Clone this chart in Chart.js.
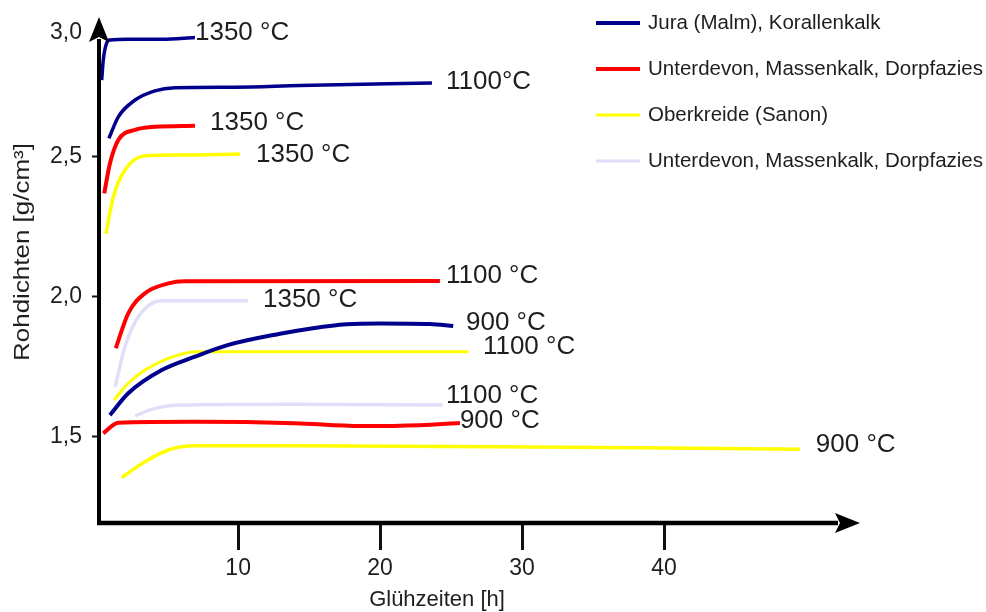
<!DOCTYPE html>
<html>
<head>
<meta charset="utf-8">
<script src="https://cdn.jsdelivr.net/npm/chart.js@4.4.1/dist/chart.umd.min.js"></script>
<style>
  html, body { margin: 0; padding: 0; background: #fff; }
  #wrap { width: 986px; height: 612px; }
</style>
</head>
<body>
<div id="wrap"><canvas id="densityChart" width="986" height="612"></canvas></div>
<script>
// Glühzeit [h] und Rohdichte [g/cm³]
const JURA_1350_H = [0.39, 0.50, 0.74, 0.97, 2.24, 4.62, 6.96];
const JURA_1350_D = [2.774, 2.846, 2.907, 2.918, 2.920, 2.920, 2.927];
const JURA_1100_H = [0.90, 1.56, 2.74, 4.14, 5.55, 9.78, 14.35, 23.65];
const JURA_1100_D = [2.566, 2.643, 2.703, 2.736, 2.747, 2.749, 2.755, 2.764];
const JURA_900_H = [0.97, 2.26, 4.62, 6.96, 9.31, 12.95, 15.27, 17.64, 19.99, 23.51, 25.15];
const JURA_900_D = [1.576, 1.654, 1.737, 1.785, 1.827, 1.867, 1.887, 1.901, 1.904, 1.902, 1.895];

const DEVON_1350_H = [0.57, 0.97, 1.56, 2.74, 4.14, 6.96];
const DEVON_1350_D = [2.369, 2.476, 2.560, 2.596, 2.607, 2.611];
const DEVON_1100_H = [1.38, 2.26, 3.44, 5.08, 6.2, 24.21];
const DEVON_1100_D = [1.815, 1.940, 2.012, 2.047, 2.055, 2.056];
const DEVON_900_H = [0.50, 1.56, 6.96, 14.0, 18.58, 22.8, 25.62];
const DEVON_900_D = [1.511, 1.549, 1.552, 1.547, 1.537, 1.540, 1.548];

const KREIDE_1350_H = [0.69, 1.21, 2.03, 3.44, 5.76, 10.13];
const KREIDE_1350_D = [2.224, 2.357, 2.453, 2.504, 2.506, 2.510];
const KREIDE_1100_H = [1.26, 2.26, 3.44, 5.08, 6.96, 26.21];
const KREIDE_1100_D = [1.630, 1.690, 1.737, 1.779, 1.803, 1.803];
const KREIDE_900_H = [1.80, 3.44, 5.08, 6.96, 14.0, 28.44, 49.57];
const KREIDE_900_D = [1.353, 1.409, 1.451, 1.466, 1.466, 1.463, 1.454];

const DORP_1350_H = [1.33, 2.03, 2.97, 4.62, 10.71];
const DORP_1350_D = [1.677, 1.821, 1.928, 1.985, 1.985];
const DORP_1100_H = [2.74, 4.14, 5.78, 14.0, 24.4];
const DORP_1100_D = [1.573, 1.600, 1.612, 1.615, 1.612];

const SERIES_NAMES = [
  'Jura (Malm), Korallenkalk',
  'Unterdevon, Massenkalk, Dorpfazies',
  'Oberkreide (Sanon)',
  'Unterdevon, Massenkalk, Dorpfazies'
];
const SERIES_COLORS = ['#00008c', '#ff0000', '#ffff00', '#e2def9'];

// Temperaturbeschriftung je Kurve, Ankerpunkt in Achsenwerten
const TEMP_LABELS = ['1350 °C', '1100°C', '900 °C', '1350 °C', '1100 °C', '900 °C',
  '1350 °C', '1100 °C', '900 °C', '1350 °C', '1100 °C'];
const LABEL_H = [7.10, 24.78, 26.19, 8.16, 24.78, 25.76, 11.40, 27.38, 50.83, 11.89, 24.78];
const LABEL_D = [2.942, 2.767, 1.905, 2.621, 2.073, 1.555, 2.506, 1.819, 1.469, 1.988, 1.644];

const X_TICKS = [10, 20, 30, 40];
const Y_TICKS = [1.5, 2.0, 2.5];
const Y_TOP_LABEL = '3,0';
const X_TITLE = 'Glühzeiten [h]';
const Y_TITLE = 'Rohdichten [g/cm³]';
const X_MIN = 0.2, X_MAX = 53.8;
const Y_MIN = 1.19, Y_MAX = 3.0;

const FONT = "'Liberation Sans', Arial, sans-serif";
const TEXT = '#1e1e1e';

Chart.defaults.font.family = FONT;
Chart.defaults.color = TEXT;

function curve(h, d, group, width) {
  return {
    label: SERIES_NAMES[group],
    data: h.map((x, i) => ({ x, y: d[i] })),
    borderColor: SERIES_COLORS[group],
    borderWidth: width,
    pointRadius: 0,
    fill: false,
    cubicInterpolationMode: 'monotone'
  };
}

function noPadding(s) {
  s.paddingTop = 0;
  s.paddingBottom = 0;
  s.paddingLeft = 0;
  s.paddingRight = 0;
}

const axisPlugin = {
  id: 'axisAndNotes',
  afterDatasetsDraw(chart) {
    const { ctx, chartArea: a, scales: { x, y } } = chart;
    ctx.save();
    ctx.strokeStyle = '#000';
    ctx.fillStyle = '#000';
    ctx.lineCap = 'butt';

    // Achsen mit Pfeilen
    ctx.lineWidth = 4;
    ctx.beginPath();
    ctx.moveTo(a.left, a.bottom + 2);
    ctx.lineTo(a.left, a.top + 22);
    ctx.stroke();
    ctx.lineWidth = 4.5;
    ctx.beginPath();
    ctx.moveTo(a.left - 2, a.bottom);
    ctx.lineTo(a.right - 22, a.bottom);
    ctx.stroke();

    ctx.beginPath();
    ctx.moveTo(a.left, a.top);
    ctx.lineTo(a.left + 10, a.top + 25);
    ctx.lineTo(a.left, a.top + 20);
    ctx.lineTo(a.left - 10, a.top + 25);
    ctx.closePath();
    ctx.fill();

    ctx.beginPath();
    ctx.moveTo(a.right, a.bottom);
    ctx.lineTo(a.right - 25, a.bottom - 10);
    ctx.lineTo(a.right - 20, a.bottom);
    ctx.lineTo(a.right - 25, a.bottom + 10);
    ctx.closePath();
    ctx.fill();

    // oberste Beschriftung neben der Pfeilspitze
    ctx.fillStyle = TEXT;
    ctx.font = '23px ' + FONT;
    ctx.textAlign = 'right';
    ctx.textBaseline = 'middle';
    ctx.fillText(Y_TOP_LABEL, a.left - 17, a.top + 16);

    // Achsentitel
    ctx.font = '22px ' + FONT;
    ctx.textAlign = 'center';
    ctx.fillText(X_TITLE, 437, 600);
    ctx.save();
    ctx.translate(23, 252);
    ctx.rotate(-Math.PI / 2);
    ctx.scale(1.18, 1);
    ctx.fillText(Y_TITLE, 0, 0);
    ctx.restore();

    // Temperaturen an den Kurven
    ctx.font = '26px ' + FONT;
    ctx.textAlign = 'left';
    TEMP_LABELS.forEach((t, i) => {
      ctx.fillText(t, x.getPixelForValue(LABEL_H[i]) - 2, y.getPixelForValue(LABEL_D[i]));
    });

    // Legende
    ctx.font = '20.5px ' + FONT;
    SERIES_NAMES.forEach((name, i) => {
      const ly = 23 + i * 46;
      ctx.strokeStyle = SERIES_COLORS[i];
      ctx.lineWidth = i < 2 ? 4 : 3;
      ctx.beginPath();
      ctx.moveTo(596, ly);
      ctx.lineTo(640, ly);
      ctx.stroke();
      ctx.fillText(name, 648, ly);
    });
    ctx.restore();
  }
};

new Chart(document.getElementById('densityChart'), {
  type: 'line',
  data: {
    datasets: [
      curve(JURA_1350_H, JURA_1350_D, 0, 3.5),
      curve(JURA_1100_H, JURA_1100_D, 0, 3.5),
      curve(JURA_900_H, JURA_900_D, 0, 4),
      curve(DEVON_1350_H, DEVON_1350_D, 1, 4),
      curve(DEVON_1100_H, DEVON_1100_D, 1, 4),
      curve(DEVON_900_H, DEVON_900_D, 1, 4),
      curve(KREIDE_1350_H, KREIDE_1350_D, 2, 3.5),
      curve(KREIDE_1100_H, KREIDE_1100_D, 2, 3),
      curve(KREIDE_900_H, KREIDE_900_D, 2, 3.5),
      curve(DORP_1350_H, DORP_1350_D, 3, 3.5),
      curve(DORP_1100_H, DORP_1100_D, 3, 3.5)
    ]
  },
  options: {
    responsive: false,
    animation: false,
    layout: { padding: { top: 17, right: 126, bottom: 0, left: 0 } },
    plugins: {
      legend: { display: false },
      tooltip: { enabled: false }
    },
    scales: {
      x: {
        type: 'linear',
        min: X_MIN,
        max: X_MAX,
        afterFit: (s) => { s.height = 89; noPadding(s); },
        afterBuildTicks: (s) => { s.ticks = X_TICKS.map((v) => ({ value: v })); },
        border: { display: false },
        grid: { drawOnChartArea: false, tickLength: 27, tickWidth: 3, tickColor: '#111' },
        ticks: { padding: 5, font: { size: 23 }, color: TEXT, callback: (v) => String(v) }
      },
      y: {
        type: 'linear',
        min: Y_MIN,
        max: Y_MAX,
        afterFit: (s) => { s.width = 99; noPadding(s); },
        afterBuildTicks: (s) => { s.ticks = Y_TICKS.map((v) => ({ value: v })); },
        border: { display: false },
        grid: { drawOnChartArea: false, tickLength: 7, tickWidth: 2, tickColor: '#111' },
        ticks: { padding: 10, font: { size: 23 }, color: TEXT, callback: (v) => v.toFixed(1).replace('.', ',') }
      }
    }
  },
  plugins: [axisPlugin]
});
</script>
</body>
</html>
